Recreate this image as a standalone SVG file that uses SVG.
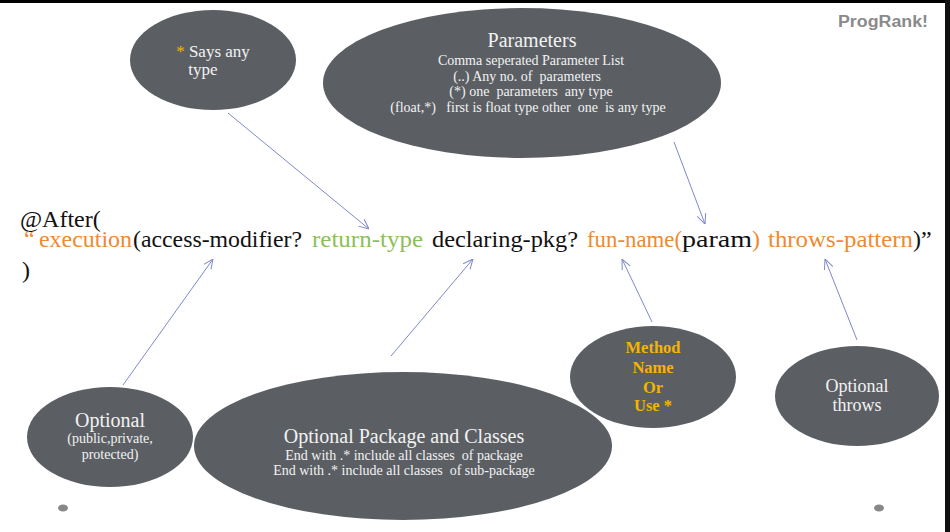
<svg xmlns="http://www.w3.org/2000/svg" width="950" height="532" viewBox="0 0 950 532">
<style>
.bub{fill:#5b5f64}
.t{font-family:"Liberation Serif","DejaVu Serif",serif;fill:#f2f2f2;text-anchor:middle;white-space:pre}
.m{font-family:"Liberation Serif","DejaVu Serif",serif;font-size:24px;white-space:pre}
.o{fill:#ee8a30}
.g{fill:#8cbf58}
.k{fill:#111111}
.y{fill:#f5b400}
.c{stroke:#7f88cc;stroke-width:1;fill:none}
</style>
<defs>
<marker id="ah" viewBox="0 0 10 10" refX="10" refY="5" markerWidth="10" markerHeight="10" markerUnits="userSpaceOnUse" orient="auto">
<path d="M0,0.5 L10,5 L0,9.5" fill="none" stroke="#7f88cc" stroke-width="1"/>
</marker>
</defs>
<rect x="0" y="0" width="950" height="532" fill="#ffffff"/>
<rect x="0" y="0" width="950" height="3" fill="#000000"/>
<rect x="945" y="0" width="5" height="532" fill="#111111"/>
<text x="838" y="27" font-family="Liberation Sans, Arial, sans-serif" font-weight="bold" font-size="16" fill="#8a8a8a" textLength="90" lengthAdjust="spacingAndGlyphs">ProgRank!</text>

<g id="says-any-type">
<ellipse class="bub" cx="213" cy="60" rx="83" ry="50"/>
<text class="t" x="213" y="57" font-size="17"><tspan class="y">*</tspan> Says any</text>
<text class="t" x="203" y="75" font-size="17">type</text>
</g>

<g id="parameters">
<ellipse class="bub" cx="522" cy="83" rx="199" ry="75"/>
<text class="t" x="532" y="47" font-size="20">Parameters</text>
<text class="t" x="531" y="65" font-size="14">Comma seperated Parameter List</text>
<text class="t" x="527" y="81" font-size="14">(..) Any no. of  parameters</text>
<text class="t" x="531" y="96" font-size="14">(*) one  parameters  any type</text>
<text class="t" x="528" y="112" font-size="14">(float,*)   first is float type other  one  is any type</text>
</g>

<g id="optional-modifier">
<ellipse class="bub" cx="110" cy="437" rx="83" ry="50"/>
<text class="t" x="110" y="427" font-size="20">Optional</text>
<text class="t" x="110" y="443" font-size="14">(public,private,</text>
<text class="t" x="110" y="459" font-size="14">protected)</text>
</g>

<g id="optional-package">
<ellipse class="bub" cx="403" cy="446" rx="209" ry="74"/>
<text class="t" x="404" y="443" font-size="20">Optional Package and Classes</text>
<text class="t" x="404" y="460" font-size="14">End with .* include all classes  of package</text>
<text class="t" x="404" y="475" font-size="14">End with .* include all classes  of sub-package</text>
</g>

<g id="method-name">
<ellipse class="bub" cx="653" cy="377" rx="83" ry="51"/>
<text class="t y" x="653" y="353" font-size="16.5" font-weight="bold">Method</text>
<text class="t y" x="653" y="373" font-size="16.5" font-weight="bold">Name</text>
<text class="t y" x="653" y="393" font-size="16.5" font-weight="bold">Or</text>
<text class="t y" x="653" y="411" font-size="16.5" font-weight="bold">Use *</text>
</g>

<g id="optional-throws">
<ellipse class="bub" cx="857" cy="396" rx="82" ry="50"/>
<text class="t" x="857" y="392" font-size="18">Optional</text>
<text class="t" x="857" y="411" font-size="18">throws</text>
</g>

<g id="expression">
<text class="m k" x="20" y="227">@After(</text>
<text class="m o" x="24" y="247">“</text>
<text class="m o" x="39" y="247" textLength="93" lengthAdjust="spacingAndGlyphs">execution</text>
<text class="m k" x="133" y="247" textLength="169" lengthAdjust="spacingAndGlyphs">(access-modifier?</text>
<text class="m g" x="312" y="247" textLength="111" lengthAdjust="spacingAndGlyphs">return-type</text>
<text class="m k" x="432" y="247" textLength="146" lengthAdjust="spacingAndGlyphs">declaring-pkg?</text>
<text class="m o" x="587" y="247" textLength="95" lengthAdjust="spacingAndGlyphs">fun-name(</text>
<text class="m k" x="682" y="247" textLength="70" lengthAdjust="spacingAndGlyphs">param</text>
<text class="m o" x="752" y="247">)</text>
<text class="m o" x="768" y="247" textLength="145" lengthAdjust="spacingAndGlyphs">throws-pattern</text>
<text class="m k" x="913" y="247">)”</text>
<text class="m k" x="22" y="278">)</text>
</g>

<g id="connectors">
<line class="c" x1="228" y1="113" x2="369" y2="229" marker-end="url(#ah)"/>
<line class="c" x1="674" y1="142" x2="705" y2="224" marker-end="url(#ah)"/>
<line class="c" x1="123" y1="385" x2="213" y2="259" marker-end="url(#ah)"/>
<line class="c" x1="391" y1="356" x2="473" y2="259" marker-end="url(#ah)"/>
<line class="c" x1="652" y1="322" x2="622" y2="259" marker-end="url(#ah)"/>
<line class="c" x1="857" y1="340" x2="825" y2="259" marker-end="url(#ah)"/>
</g>

<ellipse cx="63" cy="508" rx="5" ry="3.5" fill="#888888"/>
<ellipse cx="879" cy="508" rx="5" ry="3.5" fill="#888888"/>
</svg>
